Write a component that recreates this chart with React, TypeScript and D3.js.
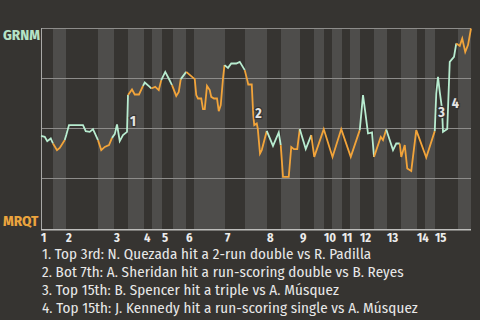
import React from 'react';
import * as d3 from 'd3';

const innings = ['1','2','3','4','5','6','7','8','9','10','11','12','13','14','15'];
// start of each half-inning, measured in plays
const halfInningStarts = [0, 4.8, 10, 22.8, 29.2, 34.8, 41.2, 44.4, 48.4, 52.8, 58, 61.2, 73.6, 81.6, 90.4, 96, 103.6, 109.2, 113.2, 116.4, 120.4, 123.6, 127.6, 133.2, 138.4, 144, 150.4, 153.6, 157.6, 166.8];
const totalPlays = 172;

const playIndex = [0,1.5,2.5,3.9,4.8,6.4,7.5,9.5,10.1,11.2,16.8,17.9,19.5,20.8,22.8,24.1,25.5,27.2,28.4,29.5,30.4,31.5,32.8,34.4,34.8,36.4,37.5,39.2,40.8,41.5,43.5,44.1,45.7,47.1,48.1,49.7,51.1,52.4,54.1,55.1,55.9,58.1,61.5,62.1,62.8,64.1,64.8,65.5,66.4,67.5,68.1,69.2,70.4,71.1,71.9,72.8,73.4,74.8,76.1,78.1,79.5,81.5,82.5,82.9,84.3,84.9,85.3,86.3,86.7,87.6,88.3,90.3,92.8,95.1,95.9,96.8,99.1,100.1,101.2,102.5,103.5,105.9,108.1,109.3,113.1,116.6,120.1,123.9,127.5,128.8,129.7,130.8,132.4,133.2,135.9,136.8,138.1,140.8,142.1,143.5,144.1,145.5,146.5,148.1,150.1,154.1,157.5,158.1,158.8,159.5,160.4,160.8,162.5,163.5,165.2,166.1,167.5,168.5,169.7,170.8,172];
const grnmWinPct = [46.3,45.8,43.7,45.0,42.5,39.2,40.3,44.2,46.7,51.7,51.7,48.7,48.3,49.7,44.2,39.2,40.8,41.7,45.3,47.2,52.0,43.7,46.7,48.3,66.7,69.5,67.0,67.0,71.3,73.0,70.8,70.0,70.8,69.2,74.2,78.3,75.0,71.7,66.3,68.3,74.7,78.3,74.7,66.7,65.0,65.0,59.7,59.7,71.3,69.2,65.8,65.0,65.0,58.7,61.7,75.0,81.7,80.3,82.5,82.5,83.3,79.2,74.2,72.0,72.0,56.7,51.7,52.5,50.0,37.5,39.2,48.8,41.3,48.0,41.7,25.8,25.8,40.8,39.7,39.7,49.7,39.7,46.7,35.8,49.7,35.8,49.7,35.8,49.2,66.7,58.3,47.5,48.0,35.8,45.8,44.2,49.5,39.2,42.5,42.5,35.8,41.7,30.0,28.8,49.2,35.5,48.7,67.5,75.8,68.3,60.0,48.3,49.7,83.3,85.8,92.5,91.3,95.0,88.3,91.7,100];

// play span (before -> after) covered by each annotated event
const eventFrom = [23, 64, 106, 112];
const eventTo = [24, 66, 108, 113];
const eventAt = [24, 65, 107, 113];
const eventLabels = ['1', '2', '3', '4'];
const footnotes = [
  '1. Top 3rd: N. Quezada hit a 2-run double vs R. Padilla',
  '2. Bot 7th: A. Sheridan hit a run-scoring double vs B. Reyes',
  '3. Top 15th: B. Spencer hit a triple vs A. Músquez',
  '4. Top 15th: J. Kennedy hit a run-scoring single vs A. Músquez',
];
const teams = ['GRNM', 'MRQT'];
const yTicks = [0, 25, 50, 75, 100];

const BG = '#363431';
const BAND = '#4e4d4b';
const GREEN = '#b8ecd0';
const ORANGE = '#f2a43a';
const FONT = "'Fira Sans Condensed', 'Roboto Condensed', 'Liberation Sans Narrow', 'DejaVu Sans Condensed', Roboto, sans-serif";

export default function App() {
  const W = 480, H = 320;
  const x = d3.scaleLinear().domain([0, totalPlays]).range([41, 471]);
  const y = d3.scaleLinear().domain([0, 100]).range([228.5, 28.5]);

  const halfOf = (u: number) => d3.bisectLeft(halfInningStarts, u) - 1;
  const pts = playIndex.map((p, i) => ({ p, v: grnmWinPct[i] }));

  const runs: { color: string; pts: { p: number; v: number }[] }[] = [];
  for (let i = 1; i < pts.length; i++) {
    const h = Math.max(0, halfOf(pts[i].p));
    const color = h % 2 === 0 ? GREEN : ORANGE;
    const last = runs[runs.length - 1];
    if (last && last.color === color) last.pts.push(pts[i]);
    else runs.push({ color, pts: [pts[i - 1], pts[i]] });
  }
  const line = d3.line<{ p: number; v: number }>().x(d => x(d.p)).y(d => y(d.v));

  const bands = halfInningStarts.map((s, i) => ({
    x0: x(s),
    x1: x(i + 1 < halfInningStarts.length ? halfInningStarts[i + 1] : totalPlays),
    light: i % 2 === 1,
  }));

  return (
    <svg width={W} height={H} style={{ position: 'absolute', left: 0, top: 0 }} fontFamily={FONT}>
      <rect width={W} height={H} fill={BG} />
      {bands.filter(b => b.light).map((b, i) => (
        <rect key={i} x={b.x0} y={28} width={b.x1 - b.x0} height={201} fill={BAND} />
      ))}
      {yTicks.slice(1).map(t => (
        <line key={t} x1={41} x2={471} y1={y(t)} y2={y(t)} stroke="#8d8c8a" strokeWidth={1} />
      ))}
      <line x1={41.5} x2={41.5} y1={28} y2={230} stroke="#a9a9a7" strokeWidth={1} />
      <line x1={41} x2={471} y1={229.8} y2={229.8} stroke="#bdbdbb" strokeWidth={1.5} />
      {runs.map((r, i) => (
        <path key={i} d={line(r.pts) || ''} fill="none" stroke={r.color} strokeWidth={1.8} strokeLinejoin="miter" />
      ))}
      {eventLabels.map((lab, i) => {
        const a = pts[eventFrom[i]], b = pts[eventTo[i]];
        const cx = x(pts[eventAt[i]].p) + 2;
        const cy = (y(a.v) + y(b.v)) / 2 + 8;
        return (
          <text key={i} x={cx} y={cy} dy="0.35em" fontSize={14} fontWeight="bold" fill="#e4e4e4"
            stroke={BG} strokeWidth={2.5} paintOrder="stroke">{lab}</text>
        );
      })}
      <text x={3} y={40} fontSize={15} fontWeight="bold" fill="#b6e3c6">{teams[0]}</text>
      <text x={3} y={226} fontSize={15} fontWeight="bold" fill="#eba43e">{teams[1]}</text>
      {innings.map((lab, i) => (
        <text key={lab} x={x(halfInningStarts[i * 2])} y={242} fontSize={12.5} fontWeight="bold" fill="#ececec">{lab}</text>
      ))}
      {footnotes.map((f, i) => (
        <text key={i} x={42} y={259 + i * 18} fontSize={15} letterSpacing={0.1} fill="#e8e8e8">{f}</text>
      ))}
    </svg>
  );
}
